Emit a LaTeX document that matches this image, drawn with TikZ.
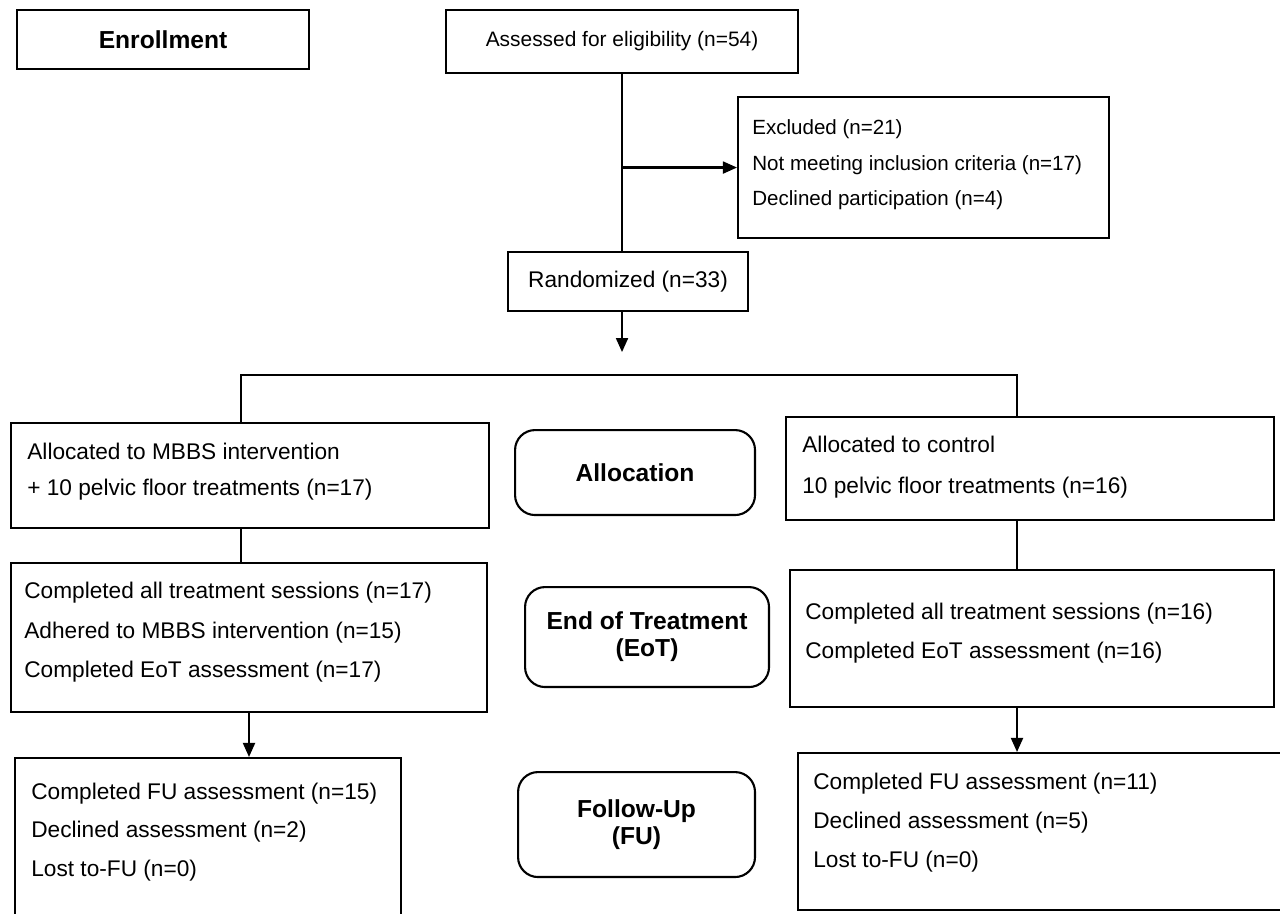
\documentclass[tikz,border=0pt]{standalone}
\usepackage{fontspec}
\setmainfont{Liberation Sans}
\usetikzlibrary{arrows.meta}
\tikzset{
  box-plain/.style={draw=black, line width=1.2pt, anchor=north west, inner sep=0pt},
  box-round/.style={
    box-plain,
    rounded corners=0.4cm,
    align=center,
    font=\bfseries\fontsize{14}{15.3}\selectfont
  },
  box-text/.style={anchor=north west, inner sep=0pt, align=left, font=\fontsize{12.9}{#1}\selectfont},
  box-text/.default=21.5,
  flow-line/.style={line width=1.2pt},
  flow-arrow/.style={flow-line, -{Triangle[length=8pt,width=6.8pt]}}
}

\begin{document}
\begin{tikzpicture}[x=0.02cm, y=-0.02cm]
  \useasboundingbox (0,0) rectangle (1280,913);
  \clip (0,0) rectangle (1280,913);
  % Enrollment
  \node[box-plain, minimum width=5.84cm, minimum height=1.18cm,
        font=\bfseries\fontsize{14}{15.3}\selectfont] (enrol) at (16,9) {Enrollment};
  \node[box-plain, minimum width=7.04cm, minimum height=1.26cm,
        font=\fontsize{11.9}{14}\selectfont] (assess) at (445,9) {Assessed for eligibility (n=54)};
  \node[box-plain, minimum width=7.42cm, minimum height=2.82cm] (excl) at (737,96) {};
  \node[box-text=20.4, font=\fontsize{11.7}{20.4}\selectfont] (excl-text) at (752,119)
    {Excluded (n=21)\\Not meeting inclusion criteria (n=17)\\Declined participation (n=4)};
  \node[box-plain, minimum width=4.8cm, minimum height=1.18cm,
        font=\fontsize{12.9}{14}\selectfont] (rand) at (507,251) {Randomized (n=33)};

  % Allocation
  \node[box-plain, minimum width=9.56cm, minimum height=2.1cm] (allocL) at (10,422) {};
  \node[box-text=20.6] (allocL-text) at (27,443)
    {Allocated to MBBS intervention\\+ 10 pelvic floor treatments (n=17)};
  \node[box-round, minimum width=4.8cm, minimum height=1.7cm] (alloc-stage) at (514,429) {Allocation};
  \node[box-plain, minimum width=9.76cm, minimum height=2.06cm] (allocR) at (785,416) {};
  \node[box-text=23.2] (allocR-text) at (802,436)
    {Allocated to control\\10 pelvic floor treatments (n=16)};

  % End of treatment
  \node[box-plain, minimum width=9.52cm, minimum height=2.98cm] (eotL) at (10,562) {};
  \node[box-text=22.5] (eotL-text) at (24,582)
    {Completed all treatment sessions (n=17)\\Adhered to MBBS intervention (n=15)\\Completed EoT assessment (n=17)};
  \node[box-round, minimum width=4.88cm, minimum height=2.0cm] (eot-stage) at (524,586) {End of Treatment\\(EoT)};
  \node[box-plain, minimum width=9.68cm, minimum height=2.74cm] (eotR) at (789,569) {};
  \node[box-text=22.3] (eotR-text) at (805,603)
    {Completed all treatment sessions (n=16)\\Completed EoT assessment (n=16)};

  % Follow-up
  \node[box-plain, minimum width=7.72cm, minimum height=3.36cm] (fuL) at (14,757) {};
  \node[box-text=21.7] (fuL-text) at (31,783)
    {Completed FU assessment (n=15)\\Declined assessment (n=2)\\Lost to-FU (n=0)};
  \node[box-round, minimum width=4.74cm, minimum height=2.1cm] (fu-stage) at (517,771) {Follow-Up\\(FU)};
  \node[box-plain, minimum width=9.86cm, minimum height=3.14cm] (fuR) at (797,752) {};
  \node[box-text=22.0] (fuR-text) at (813,773)
    {Completed FU assessment (n=11)\\Declined assessment (n=5)\\Lost to-FU (n=0)};

  % Connectors
  \coordinate (split) at ([yshift=-0.8cm]assess.south |- rand.south);
  \coordinate (bar-l) at (241,375);
  \coordinate (bar-r) at (1017,375);
  \draw[flow-line] (assess.south) -- (assess.south |- rand.north);
  \draw[flow-arrow] (assess.south |- excl.west) -- (excl.west);
  \draw[flow-arrow] (assess.south |- rand.south) -- (split);
  \draw[flow-line] (bar-l |- allocL.north) -- (bar-l) -- (bar-r) -- (bar-r |- allocR.north);
  \draw[flow-line] (bar-l |- allocL.south) -- (bar-l |- eotL.north);
  \draw[flow-line] (bar-r |- allocR.south) -- (bar-r |- eotR.north);
  \draw[flow-arrow] (eotL.south) -- (eotL.south |- fuL.north);
  \draw[flow-arrow] (bar-r |- eotR.south) -- (bar-r |- fuR.north);
\end{tikzpicture}
\end{document}
